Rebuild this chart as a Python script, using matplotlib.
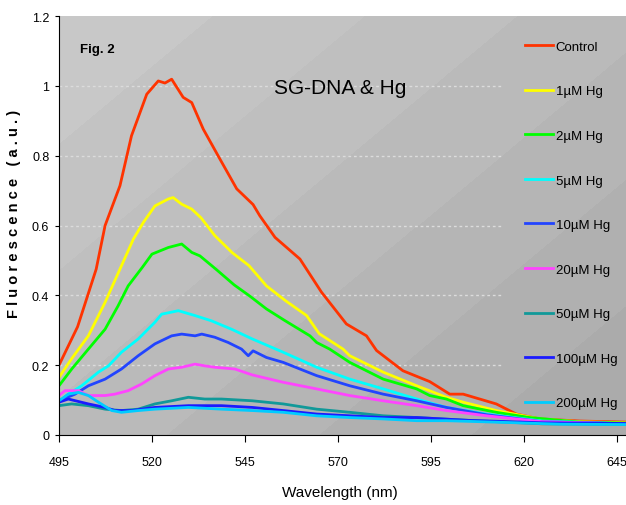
import matplotlib
matplotlib.use("Agg")
import matplotlib.pyplot as plt
import numpy as np

# wavelength (nm) / fluorescence (a.u.)
control_x = [495, 500, 505, 507.4, 511.4, 514.5, 518.6, 521.7, 523.5, 525.3, 528.4, 530.7,
             533.8, 538.3, 542.8, 547.2, 549, 553.1, 559.8, 565.6, 572.3, 577.7, 580.4,
             587.5, 594.7, 600.1, 603.7, 612.6, 618, 624.3, 635, 647.5]
control_y = [0.20, 0.31, 0.475, 0.60, 0.714, 0.857, 0.976, 1.014, 1.008, 1.019, 0.967, 0.952,
             0.876, 0.79, 0.705, 0.66, 0.628, 0.566, 0.504, 0.409, 0.318, 0.284, 0.242,
             0.184, 0.153, 0.117, 0.117, 0.089, 0.06, 0.046, 0.04, 0.037]

hg1_x = [495, 498.5, 502.9, 507.4, 511.6, 515, 517.7, 520.8, 524.4, 525.7, 528, 530.7, 533.2,
         536.9, 541.6, 546.1, 550.8, 556, 561.6, 565, 571.4, 573.2, 582.2, 591.2, 599.2,
         603.7, 612.6, 624.3, 635, 647.5]
hg1_y = [0.165, 0.22, 0.284, 0.38, 0.48, 0.561, 0.609, 0.656, 0.676, 0.68, 0.661, 0.647, 0.622,
         0.571, 0.522, 0.485, 0.427, 0.384, 0.342, 0.29, 0.246, 0.227, 0.18, 0.141, 0.108,
         0.094, 0.07, 0.046, 0.038, 0.035]

hg2_x = [495, 498.5, 502.9, 507.4, 510.9, 513.6, 517.4, 520, 524.4, 528, 530.7, 532.9, 535.5,
         537.2, 542.1, 546.3, 550.8, 555.7, 562.5, 564.3, 567.8, 573.2, 582.2, 591.2, 594.7,
         599.2, 603.7, 612.6, 621.6, 635, 647.5]
hg2_y = [0.141, 0.19, 0.246, 0.303, 0.37, 0.427, 0.48, 0.518, 0.537, 0.547, 0.523, 0.513, 0.49,
         0.475, 0.43, 0.398, 0.361, 0.328, 0.284, 0.265, 0.246, 0.208, 0.16, 0.132, 0.113,
         0.103, 0.084, 0.065, 0.05, 0.037, 0.034]

hg5_x = [495, 497.5, 501.1, 505.6, 508.3, 511.8, 516.3, 520.8, 522.6, 527.1, 531.6, 536,
         541.4, 547, 555.3, 564.3, 573.2, 582.2, 591.2, 599.2, 610, 625, 647.5]
hg5_y = [0.094, 0.117, 0.141, 0.18, 0.198, 0.237, 0.275, 0.323, 0.346, 0.356, 0.342, 0.327,
         0.303, 0.275, 0.237, 0.194, 0.16, 0.132, 0.103, 0.079, 0.06, 0.04, 0.032]

hg10_x = [495, 499.3, 502.9, 507.4, 511.8, 516.3, 520.8, 525.3, 528, 531.6, 533.4, 536.9,
          540.5, 544.1, 545.9, 547.2, 550.8, 555.3, 564.3, 573.2, 582.2, 591.2, 599.2, 610,
          625, 647.5]
hg10_y = [0.098, 0.117, 0.141, 0.16, 0.189, 0.227, 0.261, 0.284, 0.289, 0.284, 0.289, 0.28,
          0.265, 0.246, 0.227, 0.241, 0.222, 0.208, 0.17, 0.141, 0.117, 0.098, 0.079, 0.058,
          0.038, 0.032]

hg20_x = [495, 496.6, 500.2, 502.9, 507.4, 510, 513.6, 517.2, 520.8, 524.4, 528, 531.6, 534.2,
          536.9, 542.3, 547, 555.3, 564.3, 573.2, 582.2, 591.2, 599.2, 610, 625, 647.5]
hg20_y = [0.113, 0.127, 0.127, 0.113, 0.113, 0.117, 0.127, 0.146, 0.17, 0.189, 0.194, 0.203,
          0.198, 0.194, 0.189, 0.172, 0.151, 0.132, 0.113, 0.098, 0.084, 0.07, 0.055, 0.038,
          0.032]

hg50_x = [495, 498.4, 502.9, 507.4, 511.8, 516.3, 520.8, 525.3, 529.8, 534.2, 538.7, 547,
          555.3, 564.3, 573.2, 582.2, 591.2, 605, 625, 647.5]
hg50_y = [0.084, 0.089, 0.084, 0.074, 0.07, 0.074, 0.089, 0.098, 0.108, 0.103, 0.103, 0.098,
          0.089, 0.074, 0.065, 0.055, 0.05, 0.042, 0.032, 0.03]

hg100_x = [495, 497.5, 502.9, 507.4, 510, 514.5, 520.8, 529.8, 538.7, 547, 555.3, 564.3,
           573.2, 582.2, 591.2, 605, 625, 647.5]
hg100_y = [0.094, 0.103, 0.089, 0.079, 0.07, 0.07, 0.079, 0.084, 0.084, 0.079, 0.07, 0.06,
           0.055, 0.05, 0.05, 0.042, 0.035, 0.033]

hg200_x = [495, 497.5, 500.2, 502.9, 505.6, 509.2, 511.8, 516.3, 520.8, 529.8, 538.7, 547,
           555.3, 564.3, 573.2, 582.2, 591.2, 599.2, 615, 630, 647.5]
hg200_y = [0.098, 0.117, 0.122, 0.113, 0.094, 0.07, 0.065, 0.07, 0.074, 0.079, 0.074, 0.07,
           0.065, 0.055, 0.05, 0.046, 0.041, 0.041, 0.036, 0.031, 0.03]

labels = ["Control", "1µM Hg", "2µM Hg", "5µM Hg", "10µM Hg", "20µM Hg",
          "50µM Hg", "100µM Hg", "200µM Hg"]
colors = ["#ff3300", "#ffff00", "#00ff00", "#00ffff", "#2244ff", "#ff44ff",
          "#119999", "#1a1aff", "#00ccff"]
series = [(control_x, control_y), (hg1_x, hg1_y), (hg2_x, hg2_y), (hg5_x, hg5_y),
          (hg10_x, hg10_y), (hg20_x, hg20_y), (hg50_x, hg50_y), (hg100_x, hg100_y),
          (hg200_x, hg200_y)]

x_ticks = [495, 520, 545, 570, 595, 620, 645]
y_ticks = [0, 0.2, 0.4, 0.6, 0.8, 1.0, 1.2]

plt.rcParams["font.family"] = ["Liberation Sans", "DejaVu Sans"]

fig = plt.figure(figsize=(6.26, 5.06), dpi=100)
ax = fig.add_axes([59 / 626, 1 - 436 / 506, 1 - 59 / 626, 419 / 506])
ax.set_xlim(495, 647.5)
ax.set_ylim(0, 1.2)

# banded diagonal grey background
h, w = 420, 567
yy, xx = np.mgrid[0:h, 0:w]
t = (xx / w) * 0.62 + (yy / h) * 0.55
t = np.floor(t * 6) / 6
shade = 0.785 - 0.115 * t
ax.imshow(shade, cmap="gray", vmin=0, vmax=1, extent=(0, 1, 0, 1),
          transform=ax.transAxes, aspect="auto", zorder=0, interpolation="nearest")

for gy in y_ticks[1:-1]:
    ax.hlines(gy, 495, 614, colors="#dcdcdc", linestyles=(0, (2, 2)), linewidth=1, zorder=1)

for (xs, ys), lab, col in zip(series, labels, colors):
    ax.plot(xs, ys, color=col, linewidth=2.0, label=lab, zorder=2)

ax.spines["top"].set_visible(False)
ax.spines["right"].set_visible(False)
ax.set_xticks(x_ticks)
ax.set_yticks(y_ticks)
ax.set_yticklabels(["%g" % v for v in y_ticks])
ax.tick_params(axis="x", length=5, pad=10, labelsize=9)
ax.tick_params(axis="y", length=3, pad=4, labelsize=9)

fig.text(80 / 626, 1 - 50 / 506, "Fig. 2", fontweight="bold", fontsize=9.5, va="center")
fig.text(340 / 626, 1 - 89 / 506, "SG-DNA & Hg", fontsize=15, ha="center", va="center")
fig.text(340 / 626, 1 - 493 / 506, "Wavelength (nm)", fontsize=11, ha="center", va="center")
fig.text(14 / 626, 1 - 214 / 506, " ".join("Fluorescence") + "   " + " ".join("(a.u.)"),
         fontweight="bold", fontsize=10.5, rotation=90, ha="center", va="center")

ax.legend(loc="upper left", bbox_to_anchor=(518 / 626, 1 - 35 / 506),
          bbox_transform=fig.transFigure, frameon=False, fontsize=9.5,
          handlelength=2.15, handletextpad=0.2, labelspacing=2.45, borderpad=0)

fig.savefig("out.png", dpi=100)
